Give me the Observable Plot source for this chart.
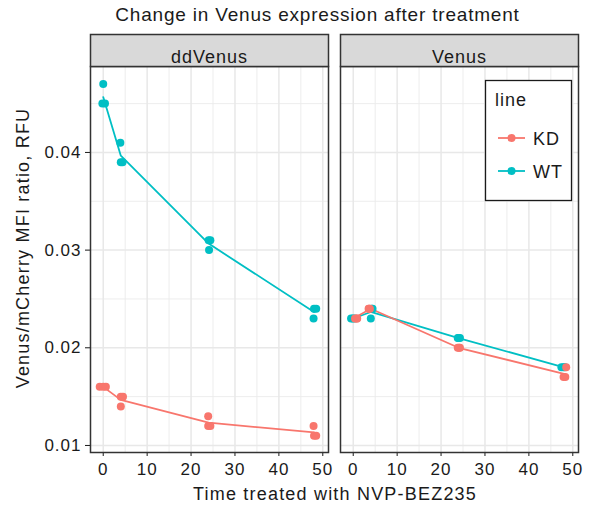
<!DOCTYPE html>
<html>
<head>
<meta charset="utf-8">
<script src="https://cdn.jsdelivr.net/npm/d3@7"></script>
<script src="https://cdn.jsdelivr.net/npm/@observablehq/plot@0.6"></script>
<style>
  html, body { margin: 0; padding: 0; background: white; }
  #wrap { position: relative; width: 600px; height: 506px; font-family: "Liberation Sans", Arial, Helvetica, sans-serif; color: #1a1a1a; }
  #title { height: 30px; position: relative; }
  #title span { position: absolute; left: 0; width: 635px; top: 5px; text-align: center; font-size: 19px; line-height: 19px; letter-spacing: 0.8px; }
  #chart svg text { letter-spacing: 1px; }
  #overlay { position: absolute; left: 0; top: 0; pointer-events: none; }
</style>
</head>
<body>
<div id="wrap">
  <div id="title"><span>Change in Venus expression after treatment</span></div>
  <div id="chart"></div>
</div>
<script>
// ---- categories & ticks ----
const panels = ["ddVenus", "Venus"];
const groups = ["KD", "WT"];
const groupColors = ["#F8766D", "#00BFC4"];
const times = [0, 4, 24, 48];
const xTicks = [0, 10, 20, 30, 40, 50];
const xMinorTicks = [5, 15, 25, 35, 45];
const yTicks = [0.01, 0.02, 0.03, 0.04];
const yMinorTicks = [0.015, 0.025, 0.035, 0.045];

// ---- replicate values (rows = time points 0, 4, 24, 48; 3 replicates each) ----
const ddVenusKD = [[0.016, 0.016, 0.016], [0.015, 0.015, 0.014], [0.013, 0.012, 0.012], [0.012, 0.011, 0.011]];
const ddVenusWT = [[0.047, 0.045, 0.045], [0.041, 0.039, 0.039], [0.031, 0.031, 0.030], [0.024, 0.024, 0.023]];
const venusKD   = [[0.023, 0.023, 0.023], [0.024, 0.024, 0.024], [0.020, 0.020, 0.020], [0.018, 0.017, 0.017]];
const venusWT   = [[0.023, 0.023, 0.023], [0.024, 0.023, 0.024], [0.021, 0.021, 0.021], [0.018, 0.018, 0.018]];

// ---- jittered time positions of the points ----
const ddVenusKDtime = [[-0.8, 0.0, 0.6], [4.0, 4.5, 4.0], [23.9, 23.9, 24.4], [47.9, 48.0, 48.5]];
const ddVenusWTtime = [[0.0, -0.2, 0.4], [3.9, 4.0, 4.4], [24.0, 24.4, 24.1], [48.0, 48.5, 47.9]];
const venusKDtime   = [[0.8, 0.4, 0.9], [3.6, 3.8, 3.5], [23.8, 24.3, 24.1], [48.5, 47.9, 48.3]];
const venusWTtime   = [[-0.5, -0.1, 0.3], [4.4, 4.0, 4.2], [23.8, 24.3, 24.0], [47.4, 47.9, 48.2]];

// ---- build the long table ----
const seriesList = [
  ["ddVenus", "WT", ddVenusWT, ddVenusWTtime],
  ["ddVenus", "KD", ddVenusKD, ddVenusKDtime],
  ["Venus", "WT", venusWT, venusWTtime],
  ["Venus", "KD", venusKD, venusKDtime]
];
const table = [];
for (const [panel, line, vals, xs] of seriesList) {
  times.forEach((t, i) => {
    vals[i].forEach((v, j) => table.push({panel, line, time: t, timeObs: xs[i][j], value: v}));
  });
}

const W = 600, H = 476;
const mTop = 36, mBottom = 54, mLeft = 89, mRight = 22;
const innerH = H - mTop - mBottom;
const stripH = 32;

const chart = Plot.plot({
  width: W, height: H,
  marginTop: mTop, marginBottom: mBottom, marginLeft: mLeft, marginRight: mRight,
  style: {fontFamily: "'Liberation Sans', Arial, Helvetica, sans-serif", fontSize: "17px", color: "#1a1a1a", background: "white", overflow: "visible"},
  fx: {domain: panels, paddingInner: 0.048, paddingOuter: 0, axis: null, label: null},
  x: {domain: [-2.9, 51.3], ticks: xTicks, tickSize: 4, tickPadding: 6, label: null, tickFormat: d => String(d)},
  y: {domain: [0.00928, 0.0488], ticks: yTicks, tickSize: 5, tickPadding: 4, label: null, tickFormat: d => d.toFixed(2)},
  color: {domain: groups, range: groupColors},
  marks: [
    Plot.frame({fill: "white"}),
    Plot.ruleX(xMinorTicks, {stroke: "#ebebeb", strokeWidth: 0.9}),
    Plot.ruleY(yMinorTicks, {stroke: "#ebebeb", strokeWidth: 0.9}),
    Plot.ruleX(xTicks, {stroke: "#e8e8e8", strokeWidth: 1.5}),
    Plot.ruleY(yTicks, {stroke: "#e8e8e8", strokeWidth: 1.5}),
    Plot.lineY(table, Plot.groupX({y: "mean"}, {x: "time", y: "value", z: "line", stroke: "line", fx: "panel", strokeWidth: 1.8})),
    Plot.dot(table, {x: "timeObs", y: "value", fill: "line", r: 4, fx: "panel"}),
    Plot.frame({stroke: "#333", strokeWidth: 1.5}),
    Plot.frame({fill: "#d9d9d9", stroke: "#333", strokeWidth: 1.5, insetTop: -stripH, insetBottom: innerH}),
    Plot.text(panels, {fx: d => d, text: d => d, frameAnchor: "top", dy: -stripH / 2, fontSize: 18, fill: "#1a1a1a"})
  ]
});
document.getElementById("chart").appendChild(chart);

// ---- overlay: axis titles and legend ----
const ov = d3.select("#wrap").append("svg").attr("id", "overlay")
  .attr("width", 600).attr("height", 506)
  .style("font-family", "'Liberation Sans', Arial, Helvetica, sans-serif");

ov.append("text").attr("x", 335).attr("y", 500).attr("text-anchor", "middle")
  .attr("font-size", 18).attr("letter-spacing", 1.2).attr("fill", "#1a1a1a")
  .text("Time treated with NVP-BEZ235");
ov.append("text").attr("transform", "translate(29,248) rotate(-90)").attr("text-anchor", "middle")
  .attr("font-size", 18).attr("letter-spacing", 1.2).attr("fill", "#1a1a1a")
  .text("Venus/mCherry MFI ratio, RFU");

const lg = ov.append("g");
lg.append("rect").attr("x", 485.5).attr("y", 80.5).attr("width", 86).attr("height", 120)
  .attr("fill", "white").attr("stroke", "#1a1a1a").attr("stroke-width", 1.3);
lg.append("text").attr("x", 495).attr("y", 106).attr("font-size", 18).attr("letter-spacing", 1)
  .attr("fill", "#1a1a1a").text("line");
groups.forEach((g, i) => {
  const cy = 138 + i * 33;
  lg.append("line").attr("x1", 498).attr("x2", 525).attr("y1", cy).attr("y2", cy)
    .attr("stroke", groupColors[i]).attr("stroke-width", 1.8);
  lg.append("circle").attr("cx", 511.5).attr("cy", cy).attr("r", 4).attr("fill", groupColors[i]);
  lg.append("text").attr("x", 533).attr("y", cy + 6.5).attr("font-size", 18).attr("letter-spacing", 1)
    .attr("fill", "#1a1a1a").text(g);
});
</script>
</body>
</html>
